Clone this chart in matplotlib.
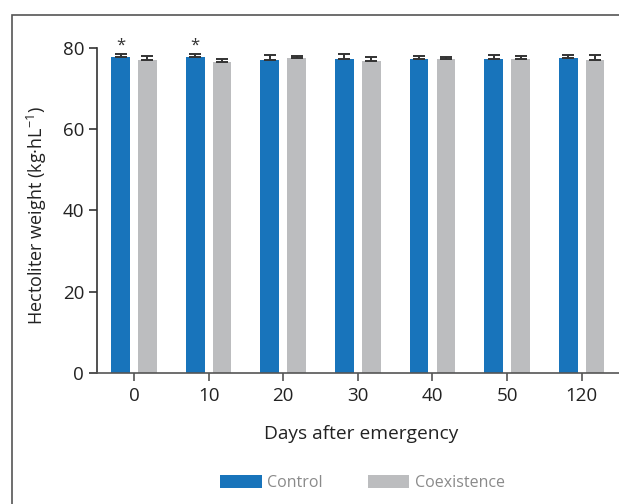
import matplotlib
matplotlib.use('Agg')
import matplotlib.pyplot as plt
from matplotlib.patches import Rectangle
import numpy as np

days = ['0', '10', '20', '30', '40', '50', '120']
control = [77.6, 77.7, 77.0, 77.2, 77.2, 77.2, 77.5]
control_err = [0.8, 0.7, 1.1, 1.2, 0.75, 1.1, 0.8]
coex = [77.0, 76.5, 77.5, 76.7, 77.2, 77.2, 77.0]
coex_err = [1.0, 0.8, 0.4, 0.9, 0.5, 0.8, 1.3]
signif = ['*', '*', '', '', '', '', '']
yticks = [0, 20, 40, 60, 80]

plt.rcParams['font.family'] = ['Open Sans', 'DejaVu Sans']
plt.rcParams['mathtext.default'] = 'regular'

fig = plt.figure(figsize=(6.19, 5.04), dpi=100)
# outer frame (cropped)
fig.patches.append(Rectangle((12/619, -0.1), 1.2, 1 - 15/504 + 0.1, transform=fig.transFigure,
                             fill=False, edgecolor='#555555', linewidth=1.2))

ax = fig.add_axes([0.1562, 0.2593, 0.8438, 0.6461])
x = np.arange(len(days))
w = 0.25
off = 0.18
blue = '#1874bb'
grey = '#bcbdbf'
ax.bar(x - off, control, w, color=blue, label='Control', zorder=2)
ax.bar(x + off, coex, w, color=grey, label='Coexistence', zorder=2)
ecol = '#333333'
ax.errorbar(x - off, control, yerr=[np.zeros(len(x)), control_err], fmt='none', ecolor=ecol,
            elinewidth=1.4, capsize=4, capthick=1.4, zorder=3, clip_on=False)
ax.errorbar(x + off, coex, yerr=[np.zeros(len(x)), coex_err], fmt='none', ecolor=ecol,
            elinewidth=1.4, capsize=4, capthick=1.4, zorder=3, clip_on=False)
for xi, v, e, s in zip(x, control, control_err, signif):
    if s:
        ax.text(xi - off, v + e + 0.1, s, ha='center', va='bottom', fontsize=12, color='#333333',
                clip_on=False)

ax.set_xlim(-0.5, 6.5)
ax.set_ylim(0, 80)
ax.set_yticks(yticks)
ax.set_xticks(x)
ax.set_xticklabels(days)
for s in ['top', 'right']:
    ax.spines[s].set_visible(False)
ax.spines['left'].set_color('#333333')
ax.spines['bottom'].set_color('#555555')
ax.spines['left'].set_linewidth(1.2)
ax.spines['bottom'].set_linewidth(1.2)
ax.tick_params(axis='both', direction='out', length=6, width=1.2, labelsize=13.5,
               labelcolor='#222222', pad=3)
ax.tick_params(axis='y', color='#333333')
ax.tick_params(axis='x', color='#555555', pad=4)

fig.text(361/619, 1 - 434/504, 'Days after emergency', ha='center', va='center',
         fontsize=13.8, color='#222222')
fig.text(37/619, 1 - 216/504, r'Hectoliter weight (kg·hL$^{-1}$)', ha='center', va='center',
         rotation=90, fontsize=13, color='#222222')

leg = fig.legend(loc='center', bbox_to_anchor=(362.5/619, 1 - 483/504), ncol=2, frameon=False,
                 fontsize=11.5, handlelength=2.6, handleheight=0.8, handletextpad=0.35,
                 columnspacing=2.8, labelcolor='#8a8a8a')

fig.savefig('out.png', dpi=100)
